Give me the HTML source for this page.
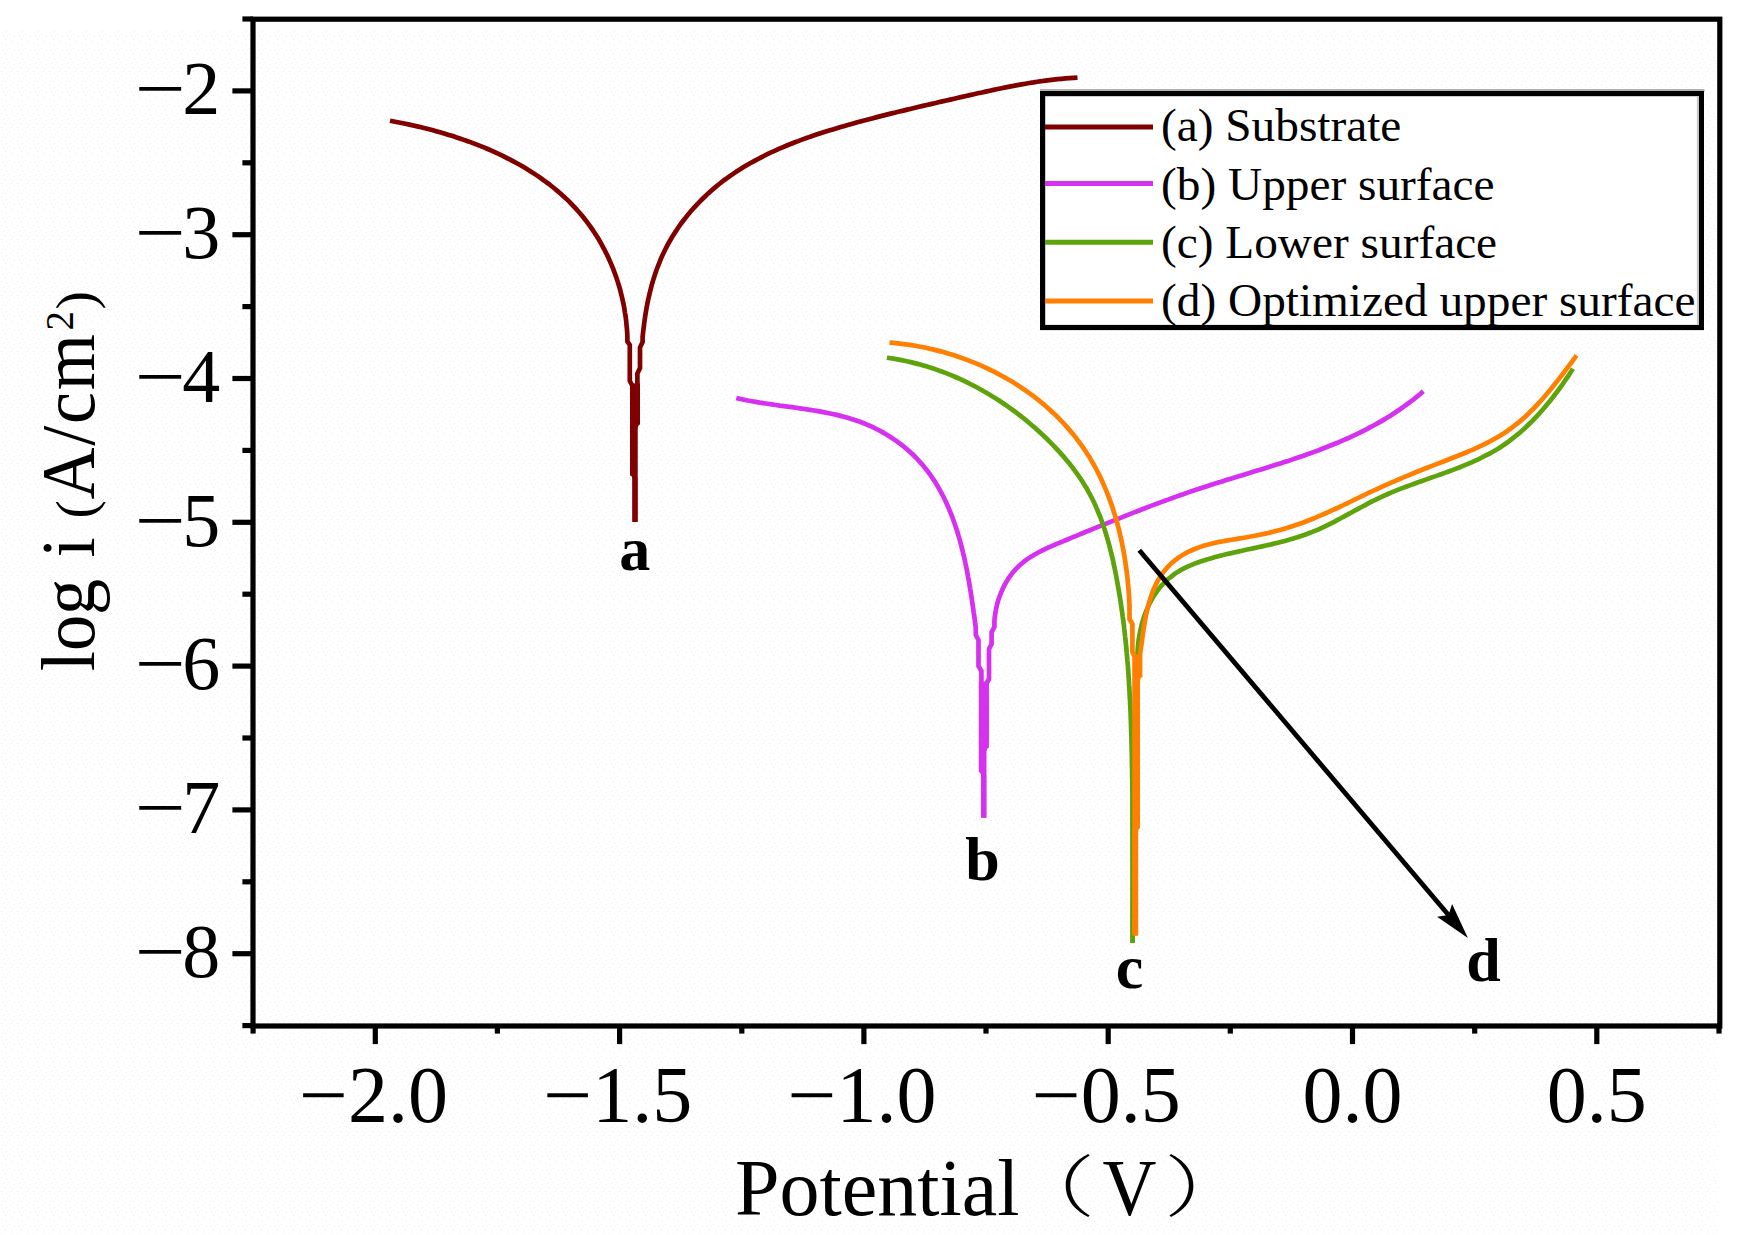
<!DOCTYPE html>
<html lang="en"><head><meta charset="utf-8"><title>Polarization curves</title>
<style>html,body{margin:0;padding:0;background:#fff}body{width:1742px;height:1235px;overflow:hidden}svg{display:block}
text{font-family:"Liberation Serif","Noto Serif CJK SC",serif;fill:#000}
.c{fill:none;stroke-linejoin:miter;stroke-miterlimit:2;stroke-linecap:butt}
</style></head><body>
<svg width="1742" height="1235" viewBox="0 0 1742 1235">
<rect width="1742" height="1235" fill="#fff"/>
<defs><pattern id="dots" width="16" height="14" patternUnits="userSpaceOnUse"><rect x="1" y="1" width="1" height="1" fill="#f3e8f3"/><rect x="6" y="3" width="1" height="1" fill="#f3e8f3"/><rect x="11" y="1" width="1" height="1" fill="#f3e8f3"/><rect x="3" y="7" width="1" height="1" fill="#f3e8f3"/><rect x="9" y="6" width="1" height="1" fill="#f3e8f3"/><rect x="14" y="8" width="1" height="1" fill="#f3e8f3"/><rect x="5" y="11" width="1" height="1" fill="#f3e8f3"/><rect x="12" y="12" width="1" height="1" fill="#f3e8f3"/><rect x="2" y="4" width="1" height="1" fill="#e6fcff"/><rect x="10" y="10" width="1" height="1" fill="#e6fcff"/><rect x="7" y="8" width="1" height="1" fill="#eeffdd"/><rect x="14" y="3" width="1" height="1" fill="#eeffdd"/></pattern></defs>
<rect x="0" y="31" width="1718" height="1204" fill="url(#dots)"/>
<g id="curves">
<path class="c" d="M390.0 120.8 L393.8 121.5 L397.7 122.2 L401.6 123.0 L405.5 123.8 L409.4 124.6 L413.3 125.5 L417.2 126.4 L421.2 127.3 L425.1 128.3 L429.1 129.3 L433.0 130.3 L437.0 131.4 L440.9 132.5 L444.9 133.7 L448.8 134.9 L452.8 136.1 L456.7 137.4 L460.6 138.7 L464.5 140.1 L468.4 141.4 L472.3 142.9 L476.2 144.4 L480.1 145.9 L483.9 147.4 L487.7 149.0 L491.5 150.7 L495.3 152.4 L499.1 154.1 L502.8 155.9 L506.5 157.8 L510.2 159.6 L513.8 161.6 L517.4 163.5 L521.0 165.5 L524.5 167.6 L528.0 169.7 L531.5 171.9 L534.9 174.1 L538.3 176.4 L541.6 178.7 L544.9 181.1 L548.2 183.5 L551.4 186.0 L554.5 188.5 L557.6 191.1 L560.7 193.7 L563.7 196.4 L566.6 199.1 L569.5 201.9 L572.3 204.8 L575.0 207.7 L577.7 210.7 L580.4 213.7 L582.9 216.8 L585.4 219.9 L587.8 223.1 L590.2 226.3 L592.5 229.6 L594.7 233.0 L596.9 236.4 L599.0 239.8 L601.0 243.3 L602.9 246.8 L604.8 250.4 L606.6 254.0 L608.4 257.7 L610.0 261.4 L611.6 265.1 L613.2 268.9 L614.6 272.7 L616.0 276.5 L617.3 280.4 L618.5 284.3 L619.7 288.2 L620.7 292.1 L621.7 296.1 L622.6 300.1 L623.5 304.1 L624.3 308.2 L624.9 312.3 L625.6 316.3 L626.1 320.4 L626.5 324.6 L626.9 328.7 L627.2 332.8 L627.4 337.0 L627.4 341.5 L629.8 345.0 L629.8 381.0 L632.5 386.0 L632.5 473.0 L635.0 478.0 L635.0 522.0" stroke="#800000" stroke-width="4.7"/>
<path class="c" d="M635.0 522.0 L635.0 428.0 L637.4 422.5 L637.4 373.5 L640.0 368.0 L640.0 347.5 L642.6 342.0 L642.6 337.0 L642.6 337.0 L643.0 333.0 L643.5 329.0 L644.0 325.0 L644.5 321.0 L645.1 316.9 L645.7 312.9 L646.4 308.9 L647.1 305.0 L647.9 301.0 L648.8 297.0 L649.7 293.1 L650.7 289.1 L651.7 285.2 L652.8 281.3 L654.0 277.5 L655.3 273.6 L656.6 269.8 L658.0 266.0 L659.5 262.3 L661.0 258.5 L662.7 254.8 L664.4 251.2 L666.2 247.6 L668.1 244.0 L670.1 240.5 L672.1 237.0 L674.3 233.6 L676.5 230.2 L678.8 226.8 L681.1 223.5 L683.6 220.3 L686.1 217.1 L688.6 213.9 L691.3 210.8 L693.9 207.8 L696.7 204.8 L699.5 201.9 L702.4 199.0 L705.3 196.2 L708.2 193.4 L711.2 190.7 L714.3 188.1 L717.4 185.5 L720.5 183.0 L723.7 180.5 L727.0 178.2 L730.2 175.8 L733.5 173.6 L736.9 171.3 L740.2 169.2 L743.6 167.1 L747.1 165.0 L750.6 163.0 L754.1 161.1 L757.6 159.2 L761.2 157.3 L764.7 155.5 L768.4 153.7 L772.0 152.0 L775.7 150.3 L779.4 148.7 L783.1 147.1 L786.8 145.5 L790.6 144.0 L794.3 142.5 L798.1 141.1 L801.9 139.6 L805.8 138.3 L809.6 136.9 L813.5 135.6 L817.3 134.3 L821.2 133.0 L825.1 131.8 L829.0 130.6 L832.9 129.4 L836.8 128.2 L840.7 127.0 L844.6 125.9 L848.5 124.8 L852.5 123.7 L856.4 122.6 L860.3 121.5 L864.2 120.5 L868.1 119.5 L872.1 118.4 L876.0 117.4 L879.9 116.4 L883.8 115.4 L887.7 114.4 L891.6 113.4 L895.5 112.5 L899.4 111.5 L903.3 110.6 L907.2 109.6 L911.1 108.7 L915.0 107.7 L919.0 106.8 L922.9 105.9 L926.8 105.0 L930.7 104.1 L934.6 103.2 L938.5 102.3 L942.4 101.4 L946.3 100.5 L950.3 99.6 L954.2 98.7 L958.1 97.8 L962.0 96.9 L966.0 96.0 L969.9 95.1 L973.9 94.2 L977.8 93.3 L981.8 92.5 L985.7 91.6 L989.7 90.7 L993.6 89.9 L997.6 89.0 L1001.6 88.2 L1005.5 87.4 L1009.5 86.6 L1013.5 85.9 L1017.5 85.1 L1021.5 84.4 L1025.5 83.7 L1029.4 83.0 L1033.4 82.4 L1037.4 81.7 L1041.4 81.2 L1045.4 80.6 L1049.4 80.1 L1053.4 79.6 L1057.4 79.2 L1061.5 78.8 L1065.5 78.4 L1069.5 78.1 L1073.5 77.8 L1077.5 77.6" stroke="#800000" stroke-width="4.7"/>
<rect x="630.0" y="383.4" width="10.0" height="41.3" fill="#800000"/>
<rect x="630.0" y="424.7" width="7.6" height="51.0" fill="#800000"/>
<rect x="632.4" y="475.7" width="5.2" height="46.2" fill="#800000"/>
<path class="c" d="M736.3 398.0 L740.1 398.9 L744.0 399.7 L747.9 400.5 L751.8 401.2 L755.7 401.9 L759.7 402.6 L763.7 403.2 L767.7 403.8 L771.7 404.4 L775.8 405.0 L779.8 405.6 L783.9 406.1 L788.0 406.7 L792.1 407.2 L796.1 407.8 L800.2 408.4 L804.3 409.0 L808.4 409.6 L812.5 410.2 L816.5 410.9 L820.6 411.6 L824.6 412.4 L828.7 413.2 L832.7 414.0 L836.7 414.9 L840.6 415.9 L844.6 416.9 L848.5 418.0 L852.3 419.2 L856.2 420.5 L860.0 421.8 L863.8 423.3 L867.5 424.8 L871.2 426.4 L874.8 428.1 L878.4 430.0 L882.0 431.9 L885.5 433.9 L888.9 436.0 L892.3 438.2 L895.6 440.4 L898.9 442.8 L902.0 445.2 L905.2 447.8 L908.2 450.4 L911.2 453.1 L914.1 455.8 L916.9 458.7 L919.6 461.6 L922.3 464.6 L924.8 467.7 L927.3 470.8 L929.7 474.0 L932.0 477.3 L934.2 480.6 L936.3 484.0 L938.4 487.4 L940.3 490.9 L942.2 494.4 L944.1 498.0 L945.8 501.7 L947.5 505.4 L949.1 509.1 L950.6 512.9 L952.1 516.7 L953.5 520.5 L954.9 524.4 L956.2 528.3 L957.5 532.2 L958.6 536.2 L959.8 540.1 L960.9 544.1 L961.9 548.1 L962.9 552.2 L963.9 556.2 L964.8 560.2 L965.6 564.3 L966.5 568.3 L967.3 572.4 L968.0 576.5 L968.8 580.5 L969.5 584.6 L970.1 588.6 L970.8 592.6 L971.4 596.6 L972.0 600.6 L972.6 604.6 L973.2 608.6 L973.7 612.5 L974.3 616.4 L974.8 620.3 L975.3 624.2 L975.8 628.0 L975.8 635.0 L978.5 640.0 L978.5 666.0 L981.4 671.0 L981.4 770.0 L983.8 775.0 L983.8 817.6" stroke="#D630F0" stroke-width="4.7"/>
<path class="c" d="M983.8 817.6 L983.8 751.0 L986.1 746.0 L986.1 684.0 L989.0 679.0 L989.0 649.0 L991.6 644.0 L991.6 632.0 L994.4 627.0 L994.4 621.0 L994.4 621.0 L994.8 616.8 L995.4 612.7 L996.2 608.6 L997.1 604.5 L998.2 600.5 L999.5 596.6 L1001.0 592.8 L1002.6 589.0 L1004.4 585.4 L1006.4 581.8 L1008.5 578.4 L1010.8 575.2 L1013.2 572.0 L1015.8 569.1 L1018.6 566.3 L1021.5 563.7 L1024.5 561.2 L1027.7 558.9 L1031.0 556.7 L1034.3 554.7 L1037.8 552.7 L1041.4 550.9 L1045.0 549.1 L1048.6 547.4 L1052.4 545.8 L1056.1 544.2 L1059.9 542.6 L1063.6 541.1 L1067.4 539.5 L1071.2 537.9 L1074.9 536.4 L1078.7 534.8 L1082.4 533.3 L1086.2 531.7 L1089.9 530.2 L1093.7 528.7 L1097.4 527.1 L1101.2 525.6 L1104.9 524.1 L1108.6 522.6 L1112.4 521.1 L1116.1 519.6 L1119.9 518.1 L1123.6 516.6 L1127.3 515.1 L1131.1 513.6 L1134.8 512.1 L1138.6 510.7 L1142.3 509.2 L1146.1 507.8 L1149.8 506.4 L1153.6 504.9 L1157.4 503.5 L1161.1 502.1 L1164.9 500.7 L1168.7 499.4 L1172.5 498.0 L1176.2 496.6 L1180.0 495.3 L1183.8 494.0 L1187.6 492.6 L1191.5 491.3 L1195.3 490.0 L1199.1 488.8 L1203.0 487.5 L1206.8 486.2 L1210.6 485.0 L1214.5 483.8 L1218.4 482.6 L1222.2 481.4 L1226.1 480.1 L1230.0 479.0 L1233.9 477.8 L1237.8 476.6 L1241.6 475.4 L1245.5 474.2 L1249.4 473.0 L1253.3 471.8 L1257.2 470.6 L1261.1 469.4 L1265.0 468.2 L1268.8 467.0 L1272.7 465.8 L1276.6 464.6 L1280.4 463.4 L1284.3 462.1 L1288.2 460.9 L1292.0 459.6 L1295.8 458.3 L1299.7 457.0 L1303.5 455.7 L1307.3 454.3 L1311.1 453.0 L1314.9 451.6 L1318.7 450.2 L1322.4 448.7 L1326.2 447.3 L1329.9 445.8 L1333.7 444.3 L1337.4 442.8 L1341.1 441.2 L1344.7 439.6 L1348.4 438.0 L1352.0 436.3 L1355.7 434.6 L1359.3 432.9 L1362.9 431.1 L1366.4 429.3 L1370.0 427.4 L1373.5 425.5 L1377.0 423.6 L1380.5 421.6 L1383.9 419.6 L1387.4 417.5 L1390.8 415.4 L1394.1 413.2 L1397.5 411.0 L1400.8 408.7 L1404.1 406.4 L1407.4 404.0 L1410.6 401.6 L1413.9 399.1 L1417.0 396.6 L1420.2 394.0 L1423.3 391.3" stroke="#D630F0" stroke-width="4.7"/>
<rect x="978.8" y="681.5" width="10.1" height="66.5" fill="#D630F0"/>
<rect x="978.8" y="748.0" width="7.6" height="24.2" fill="#D630F0"/>
<rect x="981.1" y="772.2" width="5.3" height="45.4" fill="#D630F0"/>
<path class="c" d="M886.9 357.7 L890.9 358.3 L894.9 358.9 L898.9 359.6 L902.8 360.4 L906.8 361.2 L910.7 362.1 L914.6 363.1 L918.5 364.1 L922.4 365.2 L926.3 366.3 L930.1 367.5 L934.0 368.8 L937.8 370.1 L941.6 371.5 L945.4 372.9 L949.1 374.4 L952.9 375.9 L956.6 377.5 L960.3 379.2 L964.0 380.9 L967.6 382.7 L971.2 384.5 L974.9 386.3 L978.4 388.2 L982.0 390.2 L985.5 392.2 L989.0 394.3 L992.5 396.4 L995.9 398.5 L999.4 400.7 L1002.7 403.0 L1006.1 405.3 L1009.4 407.6 L1012.7 410.0 L1016.0 412.4 L1019.2 414.9 L1022.4 417.4 L1025.6 419.9 L1028.7 422.5 L1031.8 425.2 L1034.9 427.8 L1037.9 430.5 L1040.9 433.3 L1043.8 436.0 L1046.8 438.8 L1049.6 441.7 L1052.5 444.6 L1055.3 447.5 L1058.0 450.4 L1060.7 453.4 L1063.4 456.4 L1066.0 459.5 L1068.6 462.6 L1071.1 465.7 L1073.5 468.9 L1075.9 472.1 L1078.2 475.4 L1080.5 478.7 L1082.7 482.0 L1084.8 485.4 L1086.9 488.8 L1088.8 492.3 L1090.7 495.8 L1092.5 499.3 L1094.3 502.9 L1095.9 506.6 L1097.5 510.3 L1099.0 514.0 L1100.5 517.7 L1101.9 521.5 L1103.2 525.3 L1104.5 529.2 L1105.7 533.0 L1106.9 536.9 L1108.0 540.8 L1109.1 544.7 L1110.1 548.7 L1111.1 552.6 L1112.1 556.6 L1113.0 560.6 L1113.8 564.5 L1114.7 568.5 L1115.5 572.5 L1116.3 576.5 L1117.0 580.5 L1117.7 584.5 L1118.4 588.5 L1119.1 592.5 L1119.8 596.5 L1120.4 600.5 L1121.0 604.5 L1121.6 608.6 L1122.2 612.6 L1122.7 616.6 L1123.3 620.6 L1123.8 624.6 L1124.2 628.6 L1124.7 632.6 L1125.1 636.6 L1125.6 640.6 L1126.0 644.7 L1126.4 648.7 L1126.7 652.7 L1127.1 656.7 L1127.4 660.7 L1127.8 664.7 L1128.1 668.8 L1128.4 672.8 L1128.6 676.8 L1128.9 680.8 L1129.1 684.9 L1129.4 688.9 L1129.6 692.9 L1129.8 697.0 L1130.0 701.0 L1130.2 705.0 L1130.4 709.1 L1130.6 713.1 L1130.7 717.1 L1130.9 721.2 L1131.0 725.2 L1131.1 729.2 L1131.3 733.3 L1131.4 737.3 L1131.5 741.4 L1131.6 745.4 L1131.7 749.5 L1131.8 753.5 L1131.9 757.6 L1131.9 761.6 L1132.0 765.7 L1132.1 769.7 L1132.1 773.8 L1132.2 777.8 L1132.3 781.9 L1132.3 785.9 L1132.4 790.0 L1132.6 943.0" stroke="#5EA30C" stroke-width="4.7"/>
<path class="c" d="M1132.6 943.0 L1134.0 800.0 L1136.0 700.0 L1137.5 655.0 L1137.5 655.0 L1137.6 651.1 L1137.9 647.1 L1138.3 643.1 L1138.8 639.1 L1139.5 635.0 L1140.3 631.0 L1141.2 626.9 L1142.2 622.9 L1143.4 618.9 L1144.7 615.0 L1146.2 611.1 L1147.8 607.4 L1149.5 603.7 L1151.4 600.1 L1153.4 596.6 L1155.6 593.3 L1157.9 590.1 L1160.3 587.0 L1162.9 584.1 L1165.6 581.3 L1168.5 578.7 L1171.5 576.3 L1174.6 574.0 L1177.8 571.9 L1181.1 569.9 L1184.5 568.1 L1188.1 566.4 L1191.7 564.8 L1195.3 563.4 L1199.1 562.0 L1202.9 560.7 L1206.7 559.5 L1210.6 558.4 L1214.4 557.3 L1218.4 556.3 L1222.3 555.3 L1226.2 554.3 L1230.2 553.4 L1234.1 552.5 L1238.1 551.6 L1242.1 550.7 L1246.1 549.8 L1250.1 549.0 L1254.1 548.1 L1258.0 547.2 L1262.0 546.4 L1266.0 545.5 L1270.0 544.6 L1273.9 543.6 L1277.8 542.7 L1281.8 541.7 L1285.7 540.7 L1289.6 539.6 L1293.4 538.4 L1297.3 537.3 L1301.1 536.0 L1304.9 534.7 L1308.7 533.3 L1312.4 531.9 L1316.1 530.4 L1319.8 528.8 L1323.4 527.1 L1327.0 525.4 L1330.6 523.6 L1334.2 521.8 L1337.7 519.9 L1341.3 518.0 L1344.8 516.1 L1348.4 514.2 L1351.9 512.3 L1355.4 510.3 L1359.0 508.4 L1362.5 506.5 L1366.1 504.6 L1369.6 502.7 L1373.2 500.9 L1376.9 499.1 L1380.5 497.3 L1384.2 495.7 L1387.9 494.0 L1391.6 492.4 L1395.3 490.9 L1399.1 489.4 L1402.9 487.9 L1406.6 486.5 L1410.4 485.1 L1414.3 483.7 L1418.1 482.3 L1421.9 481.0 L1425.7 479.6 L1429.6 478.3 L1433.4 476.9 L1437.2 475.6 L1441.0 474.2 L1444.8 472.9 L1448.6 471.5 L1452.4 470.1 L1456.2 468.6 L1459.9 467.2 L1463.6 465.7 L1467.3 464.1 L1471.0 462.6 L1474.7 460.9 L1478.3 459.3 L1481.9 457.5 L1485.4 455.7 L1489.0 453.9 L1492.4 452.0 L1495.9 450.0 L1499.3 447.9 L1502.6 445.7 L1505.9 443.5 L1509.2 441.1 L1512.3 438.7 L1515.5 436.2 L1518.6 433.7 L1521.7 431.0 L1524.7 428.3 L1527.6 425.5 L1530.5 422.7 L1533.4 419.8 L1536.2 416.8 L1539.0 413.9 L1541.7 410.8 L1544.4 407.7 L1547.0 404.6 L1549.6 401.4 L1552.1 398.3 L1554.6 395.0 L1557.1 391.8 L1559.5 388.5 L1561.8 385.3 L1564.1 382.0 L1566.4 378.7 L1568.7 375.4 L1570.8 372.1 L1573.0 368.8" stroke="#5EA30C" stroke-width="4.7"/>
<path class="c" d="M889.5 342.6 L893.6 342.9 L897.6 343.3 L901.6 343.8 L905.7 344.3 L909.7 344.9 L913.8 345.5 L917.8 346.2 L921.8 347.0 L925.8 347.8 L929.8 348.7 L933.8 349.6 L937.7 350.6 L941.7 351.6 L945.6 352.7 L949.6 353.9 L953.5 355.1 L957.4 356.4 L961.2 357.7 L965.1 359.1 L968.9 360.6 L972.7 362.1 L976.5 363.6 L980.2 365.2 L984.0 366.9 L987.7 368.6 L991.3 370.4 L995.0 372.2 L998.6 374.1 L1002.2 376.0 L1005.7 378.0 L1009.2 380.0 L1012.7 382.1 L1016.2 384.3 L1019.6 386.4 L1022.9 388.7 L1026.3 391.0 L1029.6 393.3 L1032.8 395.7 L1036.0 398.2 L1039.2 400.7 L1042.3 403.2 L1045.3 405.8 L1048.4 408.5 L1051.3 411.2 L1054.3 413.9 L1057.2 416.7 L1060.0 419.6 L1062.7 422.4 L1065.5 425.4 L1068.1 428.4 L1070.7 431.4 L1073.3 434.5 L1075.8 437.6 L1078.2 440.8 L1080.6 444.0 L1082.9 447.3 L1085.2 450.6 L1087.3 453.9 L1089.5 457.3 L1091.5 460.8 L1093.5 464.2 L1095.5 467.8 L1097.3 471.3 L1099.2 474.9 L1100.9 478.6 L1102.6 482.2 L1104.2 485.9 L1105.8 489.7 L1107.3 493.4 L1108.8 497.2 L1110.2 501.1 L1111.6 504.9 L1112.9 508.8 L1114.1 512.7 L1115.3 516.6 L1116.5 520.5 L1117.5 524.5 L1118.6 528.4 L1119.6 532.4 L1120.5 536.4 L1121.4 540.4 L1122.2 544.4 L1123.0 548.5 L1123.8 552.5 L1124.5 556.5 L1125.1 560.6 L1125.7 564.6 L1126.3 568.7 L1126.8 572.7 L1127.3 576.8 L1127.7 580.8 L1128.1 584.9 L1128.5 588.9 L1128.8 593.0 L1129.1 597.0 L1129.3 601.0 L1129.5 605.0 L1129.5 619.0 L1132.4 624.0 L1132.4 652.0 L1134.9 657.0 L1134.9 935.5" stroke="#FF8000" stroke-width="4.7"/>
<path class="c" d="M1135.7 935.5 L1135.7 830.0 L1137.5 826.0 L1137.5 680.0 L1139.5 675.0 L1139.5 657.0 L1140.5 651.5 L1140.5 651.5 L1141.0 647.8 L1141.5 643.9 L1142.1 640.0 L1142.6 636.0 L1143.2 631.9 L1143.8 627.8 L1144.5 623.7 L1145.2 619.6 L1146.0 615.4 L1146.9 611.3 L1147.8 607.2 L1148.9 603.1 L1150.1 599.1 L1151.4 595.2 L1152.8 591.3 L1154.4 587.6 L1156.2 583.9 L1158.0 580.4 L1160.1 577.0 L1162.3 573.7 L1164.6 570.6 L1167.1 567.7 L1169.8 564.9 L1172.6 562.3 L1175.6 559.8 L1178.7 557.5 L1181.9 555.4 L1185.2 553.5 L1188.7 551.6 L1192.3 550.0 L1195.9 548.5 L1199.7 547.1 L1203.5 545.8 L1207.4 544.7 L1211.3 543.7 L1215.3 542.8 L1219.3 541.9 L1223.4 541.2 L1227.5 540.4 L1231.6 539.7 L1235.7 539.1 L1239.8 538.4 L1243.9 537.7 L1248.0 537.0 L1252.1 536.3 L1256.1 535.5 L1260.1 534.7 L1264.1 533.9 L1268.1 533.0 L1272.0 532.0 L1275.9 531.0 L1279.8 530.0 L1283.7 528.9 L1287.5 527.8 L1291.4 526.6 L1295.2 525.3 L1299.0 524.0 L1302.8 522.7 L1306.5 521.2 L1310.3 519.8 L1314.0 518.3 L1317.7 516.7 L1321.4 515.1 L1325.1 513.5 L1328.8 511.9 L1332.5 510.2 L1336.2 508.5 L1339.8 506.8 L1343.5 505.0 L1347.1 503.3 L1350.8 501.5 L1354.5 499.7 L1358.1 498.0 L1361.8 496.2 L1365.4 494.5 L1369.1 492.7 L1372.7 491.0 L1376.4 489.3 L1380.1 487.6 L1383.7 485.9 L1387.4 484.3 L1391.1 482.7 L1394.8 481.1 L1398.5 479.5 L1402.2 477.9 L1405.9 476.4 L1409.7 474.8 L1413.4 473.3 L1417.1 471.8 L1420.9 470.3 L1424.6 468.8 L1428.4 467.3 L1432.1 465.9 L1435.9 464.4 L1439.7 462.9 L1443.5 461.5 L1447.3 460.0 L1451.0 458.5 L1454.8 457.0 L1458.6 455.5 L1462.3 454.0 L1466.1 452.5 L1469.8 450.9 L1473.5 449.3 L1477.2 447.6 L1480.9 445.9 L1484.5 444.2 L1488.1 442.3 L1491.6 440.5 L1495.1 438.5 L1498.6 436.5 L1502.0 434.4 L1505.4 432.3 L1508.7 430.0 L1511.9 427.6 L1515.1 425.2 L1518.3 422.7 L1521.3 420.1 L1524.4 417.4 L1527.3 414.7 L1530.3 411.8 L1533.1 409.0 L1536.0 406.0 L1538.7 403.1 L1541.5 400.0 L1544.2 397.0 L1546.9 393.8 L1549.5 390.7 L1552.1 387.5 L1554.7 384.3 L1557.2 381.1 L1559.7 377.9 L1562.2 374.7 L1564.6 371.5 L1567.1 368.2 L1569.5 365.0 L1571.9 361.8 L1574.2 358.6 L1576.6 355.4" stroke="#FF8000" stroke-width="4.7"/>
<rect x="1132.4" y="654.8" width="10.0" height="22.6" fill="#FF8000"/>
<rect x="1132.4" y="677.4" width="7.6" height="151.0" fill="#FF8000"/>
<rect x="1132.2" y="828.4" width="6.0" height="107.1" fill="#FF8000"/>
</g>
<line x1="1139.3" y1="550.2" x2="1448.5" y2="915.0" stroke="#000" stroke-width="4.8"/>
<polygon points="1467.9,937.9 1437.1,916.8 1448.5,915.0 1452.1,904.1" fill="#000"/>
<g id="axes" stroke="#000" stroke-width="5.2" fill="none">
<rect x="253.0" y="19.2" width="1466.8" height="1006.8"/>
<line x1="242.4" y1="19.0" x2="253.0" y2="19.0"/>
<line x1="232.4" y1="90.9" x2="253.0" y2="90.9"/>
<line x1="242.4" y1="162.8" x2="253.0" y2="162.8"/>
<line x1="232.4" y1="234.7" x2="253.0" y2="234.7"/>
<line x1="242.4" y1="306.6" x2="253.0" y2="306.6"/>
<line x1="232.4" y1="378.5" x2="253.0" y2="378.5"/>
<line x1="242.4" y1="450.4" x2="253.0" y2="450.4"/>
<line x1="232.4" y1="522.3" x2="253.0" y2="522.3"/>
<line x1="242.4" y1="594.2" x2="253.0" y2="594.2"/>
<line x1="232.4" y1="666.1" x2="253.0" y2="666.1"/>
<line x1="242.4" y1="738.0" x2="253.0" y2="738.0"/>
<line x1="232.4" y1="809.9" x2="253.0" y2="809.9"/>
<line x1="242.4" y1="881.8" x2="253.0" y2="881.8"/>
<line x1="232.4" y1="953.7" x2="253.0" y2="953.7"/>
<line x1="242.4" y1="1025.6" x2="253.0" y2="1025.6"/>
<line x1="253.1" y1="1026.0" x2="253.1" y2="1033.6"/>
<line x1="375.3" y1="1026.0" x2="375.3" y2="1044.1"/>
<line x1="497.4" y1="1026.0" x2="497.4" y2="1033.6"/>
<line x1="619.6" y1="1026.0" x2="619.6" y2="1044.1"/>
<line x1="741.8" y1="1026.0" x2="741.8" y2="1033.6"/>
<line x1="863.9" y1="1026.0" x2="863.9" y2="1044.1"/>
<line x1="986.0" y1="1026.0" x2="986.0" y2="1033.6"/>
<line x1="1108.2" y1="1026.0" x2="1108.2" y2="1044.1"/>
<line x1="1230.3" y1="1026.0" x2="1230.3" y2="1033.6"/>
<line x1="1352.5" y1="1026.0" x2="1352.5" y2="1044.1"/>
<line x1="1474.7" y1="1026.0" x2="1474.7" y2="1033.6"/>
<line x1="1596.8" y1="1026.0" x2="1596.8" y2="1044.1"/>
<line x1="1719.0" y1="1026.0" x2="1719.0" y2="1033.6"/>
</g>
<g id="yticks" font-size="76">
<text y="114.1"><tspan x="134.7" textLength="50.8" lengthAdjust="spacingAndGlyphs">−</tspan><tspan x="182.3">2</tspan></text>
<text y="257.9"><tspan x="134.7" textLength="50.8" lengthAdjust="spacingAndGlyphs">−</tspan><tspan x="182.3">3</tspan></text>
<text y="401.7"><tspan x="134.7" textLength="50.8" lengthAdjust="spacingAndGlyphs">−</tspan><tspan x="182.3">4</tspan></text>
<text y="545.5"><tspan x="134.7" textLength="50.8" lengthAdjust="spacingAndGlyphs">−</tspan><tspan x="182.3">5</tspan></text>
<text y="689.3"><tspan x="134.7" textLength="50.8" lengthAdjust="spacingAndGlyphs">−</tspan><tspan x="182.3">6</tspan></text>
<text y="833.1"><tspan x="134.7" textLength="50.8" lengthAdjust="spacingAndGlyphs">−</tspan><tspan x="182.3">7</tspan></text>
<text y="976.9"><tspan x="134.7" textLength="50.8" lengthAdjust="spacingAndGlyphs">−</tspan><tspan x="182.3">8</tspan></text>
</g>
<g id="xticks" font-size="80">
<text y="1122"><tspan x="298.7" textLength="49.2" lengthAdjust="spacingAndGlyphs">−</tspan><tspan x="347.9">2.0</tspan></text>
<text y="1122"><tspan x="543.0" textLength="49.2" lengthAdjust="spacingAndGlyphs">−</tspan><tspan x="592.2">1.5</tspan></text>
<text y="1122"><tspan x="787.3" textLength="49.2" lengthAdjust="spacingAndGlyphs">−</tspan><tspan x="836.5">1.0</tspan></text>
<text y="1122"><tspan x="1031.6" textLength="49.2" lengthAdjust="spacingAndGlyphs">−</tspan><tspan x="1080.8">0.5</tspan></text>
<text x="1352.5" y="1122" text-anchor="middle">0.0</text>
<text x="1596.8" y="1122" text-anchor="middle">0.5</text>
</g>
<text id="xlabel" y="1214.5" font-size="80"><tspan x="735">Potential</tspan><tspan x="1010" y="1210.5" font-size="67.6" font-weight="200" textLength="85.2" lengthAdjust="spacingAndGlyphs">（</tspan><tspan x="1102.5" y="1214.5" textLength="54" lengthAdjust="spacingAndGlyphs">V</tspan><tspan x="1164" y="1210.5" font-size="67.6" font-weight="200" textLength="85.2" lengthAdjust="spacingAndGlyphs">）</tspan></text>
<text id="ylabel" transform="translate(93.5,0) rotate(-90)" font-size="77"><tspan x="-671.2" y="0.0" font-size="77" textLength="92.5" lengthAdjust="spacingAndGlyphs">log</tspan><tspan> </tspan><tspan x="-557.5" y="0.0" font-size="77" textLength="20.1" lengthAdjust="spacingAndGlyphs">i</tspan><tspan> </tspan><tspan x="-518.5" y="0.3" font-size="55" textLength="18.3" lengthAdjust="spacingAndGlyphs">(</tspan><tspan x="-499.5" y="0.0" font-size="77" textLength="167.1" lengthAdjust="spacingAndGlyphs" letter-spacing="1.9">A/cm</tspan><tspan x="-330.5" y="-20.7" font-size="41" textLength="19.5" lengthAdjust="spacingAndGlyphs">2</tspan><tspan x="-309.5" y="0.3" font-size="55" textLength="18.3" lengthAdjust="spacingAndGlyphs">)</tspan></text>
<g id="legend">
<rect x="1040" y="89" width="664.5" height="3" fill="#b4b0b0"/>
<rect x="1042.6" y="93.6" width="658.8" height="233.9" fill="#fff" stroke="#000" stroke-width="5.2"/>
<rect x="1696.9" y="96" width="2" height="229" fill="#c8c6c6"/>
<clipPath id="lc"><rect x="1045" y="96" width="652" height="229"/></clipPath>
<g clip-path="url(#lc)" font-size="47.3">
<line x1="1043" y1="126.9" x2="1153" y2="126.9" stroke="#800000" stroke-width="5"/>
<text x="1161" y="141.3">(a) Substrate</text>
<line x1="1043" y1="183.4" x2="1153" y2="183.4" stroke="#D630F0" stroke-width="5"/>
<text x="1161" y="199.6">(b) Upper surface</text>
<line x1="1043" y1="242.2" x2="1153" y2="242.2" stroke="#5EA30C" stroke-width="5"/>
<text x="1161" y="257.7">(c) Lower surface</text>
<line x1="1043" y1="301.0" x2="1153" y2="301.0" stroke="#FF8000" stroke-width="5"/>
<text x="1161" y="316.2">(d) Optimized upper surface</text>
</g></g>
<g id="letters" font-size="62" font-weight="bold" text-anchor="middle">
<text x="634.8" y="570.3">a</text>
<text x="982.6" y="880.4">b</text>
<text x="1129.6" y="988">c</text>
<text x="1483.6" y="981">d</text>
</g>
</svg></body></html>
